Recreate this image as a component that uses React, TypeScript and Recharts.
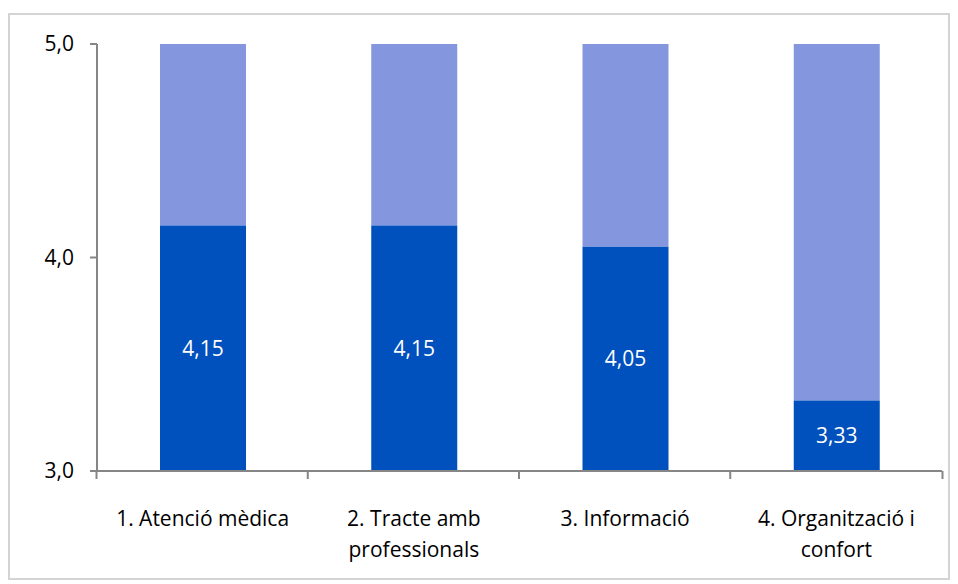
import React from "react";
import { BarChart, Bar, XAxis, YAxis, LabelList } from "recharts";

const categories = [
  "1. Atenció mèdica",
  "2. Tracte amb\nprofessionals",
  "3. Informació",
  "4. Organització i\nconfort",
];
const scores = [4.15, 4.15, 4.05, 3.33];
const axisMin = 3;
const axisMax = 5;
const yTicks = [3, 4, 5];

const data = categories.map((name, i) => ({
  name,
  score: scores[i],
  low: [axisMin, scores[i]],
  high: [scores[i], axisMax],
}));

const FONT = "'Open Sans', sans-serif";
const FS = 21;
const BAND = 849 / 4;

const fmt = (v: number, digits: number) => v.toFixed(digits).replace(".", ",");

const CategoryTick = (props: any) => {
  const { x, y, payload, index } = props;
  const lines = String(payload.value).split("\n");
  return (
    <g>
      <line x1={x - BAND / 2} x2={x - BAND / 2} y1={y} y2={y + 8} stroke="#868686" strokeWidth={2} />
      {index === categories.length - 1 && (
        <line x1={x + BAND / 2} x2={x + BAND / 2} y1={y} y2={y + 8} stroke="#868686" strokeWidth={2} />
      )}
      <text x={x} y={y + 55} textAnchor="middle" fontSize={FS} fontFamily={FONT} fill="#000">
        {lines.map((l, i) => (
          <tspan key={i} x={x} dy={i === 0 ? 0 : 31}>
            {l}
          </tspan>
        ))}
      </text>
    </g>
  );
};

export default function App() {
  return (
    <div
      style={{
        marginTop: 5,
        width: 938,
        height: 563,
        border: "2px solid #d4d4d4",
        background: "#fff",
      }}
    >
      <BarChart
        width={938}
        height={563}
        data={data}
        margin={{ top: 29, right: 6, bottom: 0, left: 0 }}
        barSize={86}
      >
        <XAxis
          xAxisId="a"
          dataKey="name"
          tick={<CategoryTick />}
          tickLine={false}
          tickSize={0}
          tickMargin={0}
          height={107}
          axisLine={{ stroke: "#868686", strokeWidth: 2 }}
          interval={0}
        />
        <XAxis xAxisId="b" dataKey="name" hide />
        <YAxis
          type="number"
          domain={[axisMin, axisMax]}
          ticks={yTicks}
          width={87}
          tickFormatter={(v: number) => fmt(v, 1)}
          tick={{ fontSize: FS, fontFamily: FONT, fill: "#000" }}
          tickLine={{ stroke: "#868686", strokeWidth: 2 }}
          tickSize={7}
          tickMargin={16}
          axisLine={{ stroke: "#868686", strokeWidth: 2 }}
        />
        <Bar xAxisId="b" dataKey="high" fill="#8497de" isAnimationActive={false} />
        <Bar xAxisId="a" dataKey="low" fill="#0050be" isAnimationActive={false}>
          <LabelList
            dataKey="score"
            position="center"
            formatter={(v: any) => fmt(Number(v), 2)}
            style={{ fontSize: FS, fontFamily: FONT, fill: "#fff" }}
          />
        </Bar>
      </BarChart>
    </div>
  );
}
